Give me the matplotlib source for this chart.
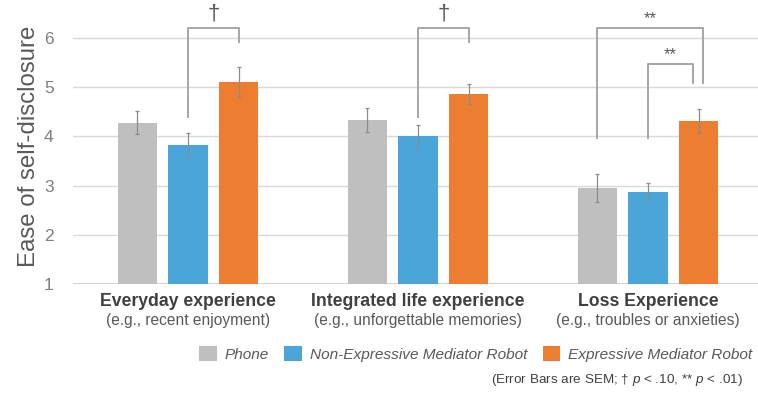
import numpy as np
import matplotlib
matplotlib.use("Agg")
import matplotlib.pyplot as plt
from matplotlib import transforms
from matplotlib.patches import Patch

plt.rcParams['font.family'] = ['Liberation Sans', 'DejaVu Sans']
plt.rcParams['mathtext.fontset'] = 'custom'
plt.rcParams['mathtext.rm'] = 'Liberation Sans'
plt.rcParams['mathtext.it'] = 'Liberation Sans:italic'

# data
categories = ['Everyday experience', 'Integrated life experience', 'Loss Experience']
examples = ['(e.g., recent enjoyment)', '(e.g., unforgettable memories)', '(e.g., troubles or anxieties)']
conditions = ['Phone', 'Non-Expressive Mediator Robot', 'Expressive Mediator Robot']
means = {
    'Phone': [4.28, 4.33, 2.95],
    'Non-Expressive Mediator Robot': [3.83, 4.00, 2.87],
    'Expressive Mediator Robot': [5.11, 4.86, 4.31],
}
sems = {
    'Phone': [0.23, 0.25, 0.28],
    'Non-Expressive Mediator Robot': [0.24, 0.23, 0.18],
    'Expressive Mediator Robot': [0.30, 0.20, 0.24],
}
colors = ['#BFBFBF', '#4AA6D9', '#ED7D31']

# brackets: (group, left bar, right bar, left foot, top, right foot, label)
brackets = [
    (0, 1, 2, 4.40, 6.20, 5.92, '†'),
    (1, 1, 2, 4.40, 6.20, 5.92, '†'),
    (2, 0, 2, 3.97, 6.20, 5.08, '**'),
    (2, 1, 2, 3.97, 5.47, 5.08, '**'),
]

offsets = np.array([-0.22, 0.0, 0.22])
width = 0.17
x = np.arange(len(categories))

fig = plt.figure(figsize=(7.58, 3.93), dpi=100)
ax = fig.add_axes([73 / 758, 1 - 284 / 393, 685 / 758, 275.5 / 393])

for i, cond in enumerate(conditions):
    ax.bar(x + offsets[i], means[cond], width, bottom=0, color=colors[i], zorder=2)
    ax.errorbar(x + offsets[i], means[cond], yerr=sems[cond], fmt='none',
                ecolor='#8C8C8C', elinewidth=0.9, capsize=1.5, capthick=0.9, zorder=3)

ax.set_ylim(1, 6.6)
ax.set_xlim(-0.5, 2.478)
ax.set_yticks(range(1, 7))
ax.set_xticks([])
ax.grid(axis='y', color='#D9D9D9', lw=1, zorder=0)
ax.axhline(1, color='#C8C8C8', lw=1.2, zorder=1)
for s in ax.spines.values():
    s.set_visible(False)
ax.tick_params(axis='y', length=0, pad=14, labelsize=12.5, labelcolor='#7F7F7F')
ax.set_ylabel('Ease of self-disclosure', fontsize=17.3, color='#595959', labelpad=3)

# significance brackets
for g, a, b, ya, top, yb, lab in brackets:
    xa = g + offsets[a]
    xb = g + offsets[b] + (0.02 if a == 0 and g == 2 else (-0.025 if g == 2 else 0))
    ax.plot([xa, xa, xb, xb], [ya, top, top, yb], color='#A6A6A6', lw=1.4,
            clip_on=False, zorder=4)
    if lab == '†':
        ax.text((xa + xb) / 2, top + 0.08, lab, ha='center', va='bottom',
                fontsize=16, color='#595959')
    else:
        ax.text((xa + xb) / 2, top + 0.04, lab, ha='center', va='bottom',
                fontsize=12, color='#595959')

# category labels under the groups
trans = transforms.blended_transform_factory(ax.transData, fig.transFigure)
for i in range(len(categories)):
    ax.text(x[i], 1 - 301 / 393, categories[i], transform=trans, ha='center', va='center',
            fontsize=12.7, fontweight='bold', color='#404040')
    ax.text(x[i], 1 - 321 / 393, examples[i], transform=trans, ha='center', va='center',
            fontsize=11.2, color='#595959')

handles = [Patch(facecolor=c, edgecolor='none') for c in colors]
leg = fig.legend(handles, conditions, loc='center right', bbox_to_anchor=(763 / 758, 1 - 354 / 393),
                 ncol=3, frameon=False, handlelength=1.15, handleheight=1.15,
                 handletextpad=0.5, columnspacing=1.0, borderpad=0.2,
                 prop={'style': 'italic', 'size': 11.1})
for t in leg.get_texts():
    t.set_color('#595959')

fig.text(743 / 758, 1 - 380 / 393,
         r'(Error Bars are SEM; † $\it{p}$ < .10, ** $\it{p}$ < .01)',
         ha='right', va='center', fontsize=9.7, color='#404040')

fig.savefig('out.png', dpi=100)
